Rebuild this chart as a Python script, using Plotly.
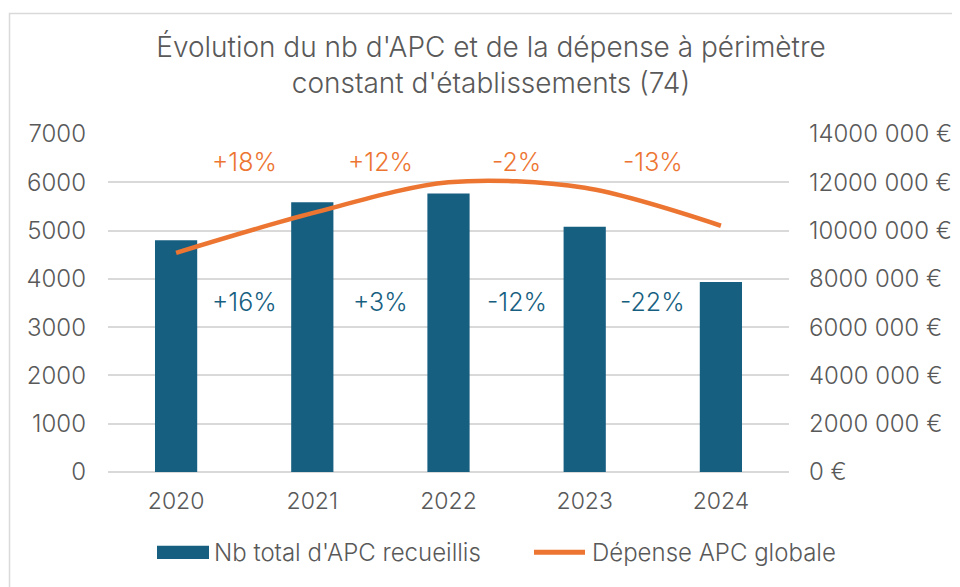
import plotly.graph_objects as go

years = ["2020", "2021", "2022", "2023", "2024"]
nb_apc = [4800, 5585, 5770, 5080, 3935]
depense = [9080000, 10720000, 12000000, 11770000, 10200000]
apc_labels = ["+16%", "+3%", "-12%", "-22%"]
dep_labels = ["+18%", "+12%", "-2%", "-13%"]
left_ticks = [0, 1000, 2000, 3000, 4000, 5000, 6000, 7000]
right_ticks = [0, 2000000, 4000000, 6000000, 8000000, 10000000, 12000000, 14000000]
right_ticktext = ["0 €", "2000 000 €", "4000 000 €", "6000 000 €", "8000 000 €",
                  "10000 000 €", "12000 000 €", "14000 000 €"]
series_names = ["Nb total d'APC recueillis", "Dépense APC globale"]

BLUE = "#175F81"
ORANGE = "#ED7532"
GREY = "#595959"
FONT = "Inter"

OFF = 8  # page body margin
W, H = 960 - OFF, 587 - OFF
L = 108 - OFF
T = 134 - OFF
R = W - (789 - OFF)
B = H - (471.7 - OFF)
PW, PH = W - L - R, H - T - B


def px(x):
    return (x - 108) / PW


def py(y):
    return (471.7 - y) / PH


fig = go.Figure()
fig.add_trace(go.Bar(
    x=years, y=nb_apc, name=series_names[0],
    marker=dict(color=BLUE, line=dict(width=0)), width=0.31, yaxis="y"))
fig.add_trace(go.Scatter(
    x=years, y=depense, name=series_names[1], mode="lines",
    line=dict(color=ORANGE, width=4.5, shape="spline", smoothing=0.9), yaxis="y2"))

for i, lab in enumerate(dep_labels):
    fig.add_annotation(x=i + 0.5, y=12850000, yref="y2", xref="x", text=lab,
                       showarrow=False, font=dict(family=FONT, size=25, weight=300, color=ORANGE))
for i, lab in enumerate(apc_labels):
    fig.add_annotation(x=i + 0.5, y=3520, yref="y", xref="x", text=lab,
                       showarrow=False, font=dict(family=FONT, size=25, weight=300, color=BLUE))

# chart border (top and left edges visible)
fig.add_shape(type="rect", xref="paper", yref="paper",
              x0=px(9.5), x1=px(990), y0=py(610), y1=py(13.5),
              line=dict(color="#D9D9D9", width=1.5), layer="below")

# legend drawn manually
fig.add_shape(type="rect", xref="paper", yref="paper",
              x0=px(157), x1=px(209), y0=py(558.5), y1=py(545.5),
              fillcolor=BLUE, line=dict(width=0))
fig.add_shape(type="line", xref="paper", yref="paper",
              x0=px(534), x1=px(585), y0=py(552), y1=py(552),
              line=dict(color=ORANGE, width=5))
fig.add_annotation(xref="paper", yref="paper", x=px(212), y=py(552),
                   xanchor="left", yanchor="middle", showarrow=False,
                   text=series_names[0],
                   font=dict(family=FONT, size=24, weight=300, color=GREY))
fig.add_annotation(xref="paper", yref="paper", x=px(590), y=py(552),
                   xanchor="left", yanchor="middle", showarrow=False,
                   text=series_names[1],
                   font=dict(family=FONT, size=24, weight=300, color=GREY))

fig.update_layout(
    width=W, height=H,
    margin=dict(l=L, r=R, t=T, b=B, autoexpand=False),
    paper_bgcolor="white", plot_bgcolor="white",
    font=dict(family=FONT, size=24, weight=300, color=GREY),
    title=dict(text="Évolution du nb d'APC et de la dépense à périmètre<br>constant d'établissements (74)",
               x=(491 - OFF) / W, xref="container", xanchor="center",
               y=1 - 49 / H, yref="container", yanchor="top",
               font=dict(family=FONT, size=28, weight=300, color=GREY)),
    xaxis=dict(type="category", showgrid=False, showline=False, ticks="",
               tickfont=dict(family=FONT, size=23, weight=300, color=GREY), ticklabelstandoff=13,
               range=[-0.5, 4.5]),
    yaxis=dict(range=[0, 7000], tickvals=left_ticks, showgrid=True,
               gridcolor="#D9D9D9", gridwidth=1.5, zeroline=True,
               zerolinecolor="#D9D9D9", zerolinewidth=1.5,
               tickfont=dict(family=FONT, size=24, weight=300, color=GREY), ticklabelstandoff=21),
    yaxis2=dict(range=[0, 14000000], tickvals=right_ticks, ticktext=right_ticktext,
                overlaying="y", side="right", showgrid=False, zeroline=False,
                tickfont=dict(family=FONT, size=24, weight=300, color=GREY), ticklabelstandoff=19),
    showlegend=False,
    bargap=0.69,
)

fig.write_html("out.html")
